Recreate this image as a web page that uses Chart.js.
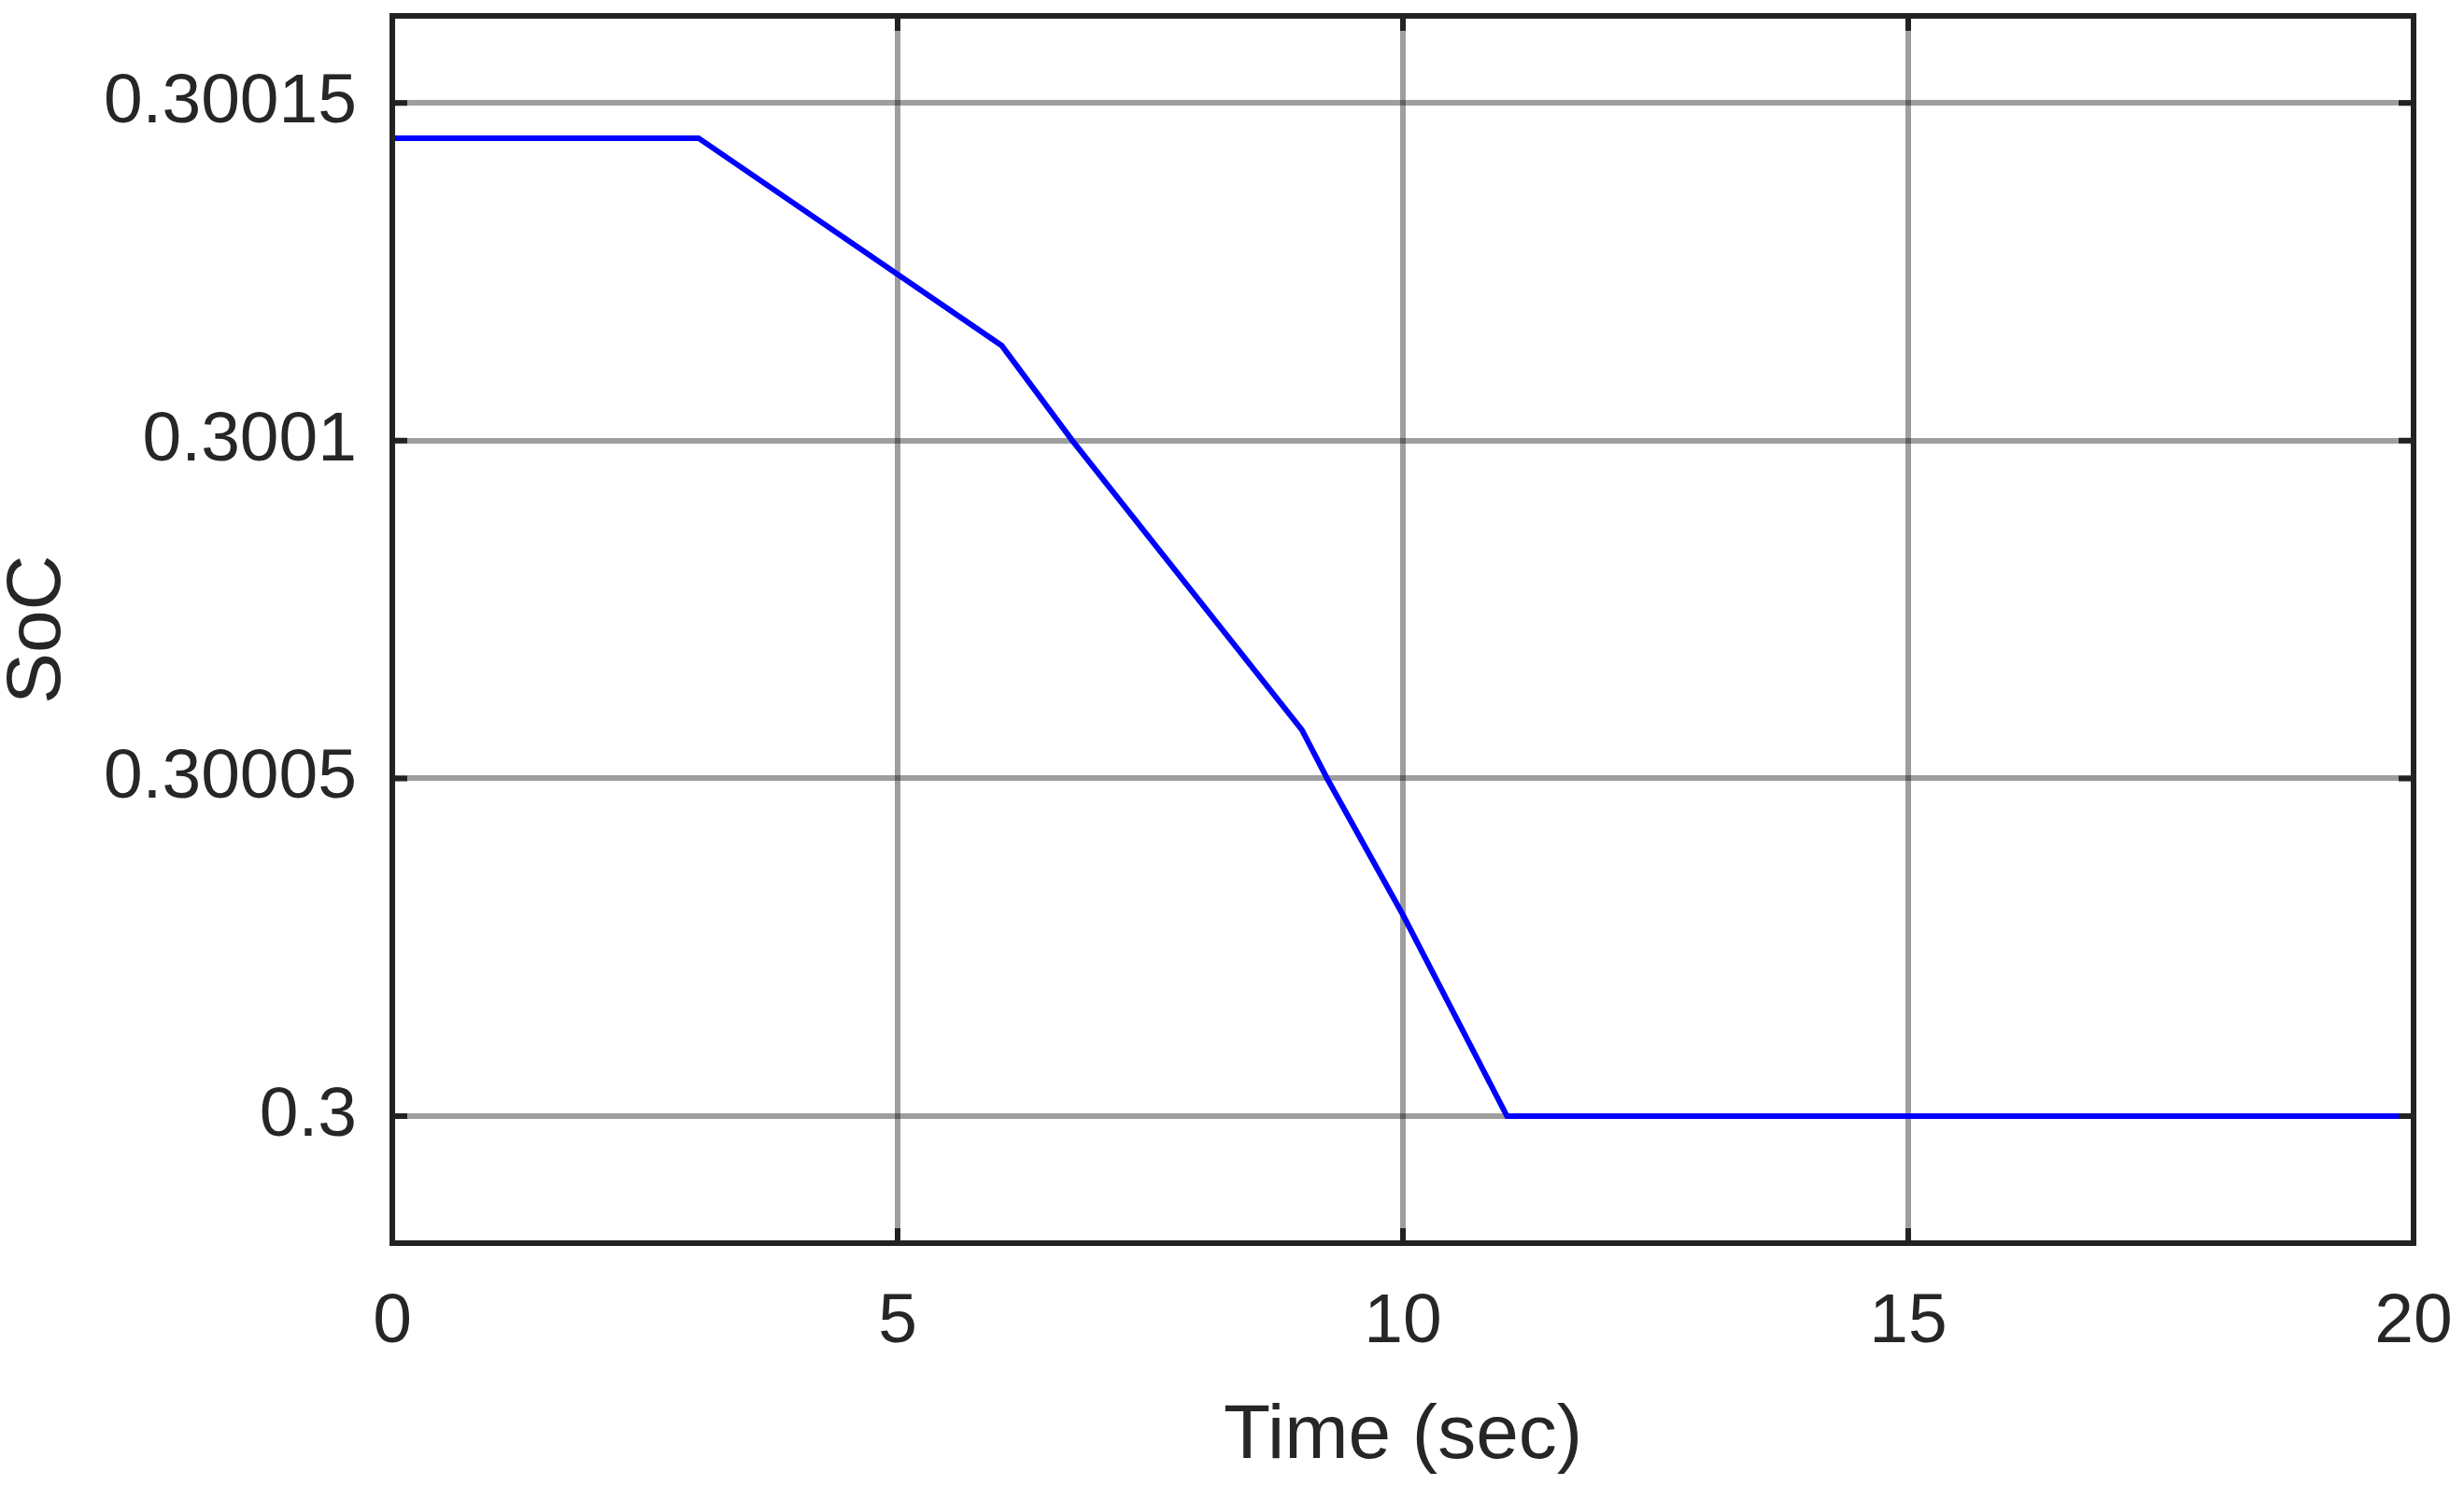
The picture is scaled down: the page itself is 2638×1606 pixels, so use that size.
<!DOCTYPE html>
<html lang="en">

<head>
  <meta charset="UTF-8">
  <title>SoC</title>
  <script src="https://cdn.jsdelivr.net/npm/chart.js@4.4.1/dist/chart.umd.min.js"></script>
  <style>
    body { margin: 0; background: #fff; }
  </style>
</head>

<body>
  <canvas id="soc" width="2638" height="1606"></canvas>
  <script>
    // values
    const timeSec = [0, 3.03, 6.03, 6.73, 9.0, 9.25, 10.0, 11.03, 20];
    const socValues = [0.3001448, 0.3001448, 0.3001141, 0.3001, 0.3000572, 0.30005, 0.3000298, 0.3, 0.3];

    const xTicks = [0, 5, 10, 15, 20];
    const xTickLabels = ['0', '5', '10', '15', '20'];
    const yTicks = [0.3, 0.30005, 0.3001, 0.30015];
    const yTickLabels = ['0.3', '0.30005', '0.3001', '0.30015'];

    const textColor = '#262626';
    const fontFamily = '"Liberation Sans", Arial, sans-serif';

    // matlab style box + inward tick marks
    const boxPlugin = {
      id: 'box',
      afterDatasetsDraw(chart) {
        const ctx = chart.ctx;
        const a = chart.chartArea;
        const xs = chart.scales.x, ys = chart.scales.y;
        const len = 16;
        ctx.save();
        ctx.strokeStyle = '#222';
        ctx.lineWidth = 6;
        ctx.beginPath();
        xTicks.forEach(v => {
          const px = xs.getPixelForValue(v);
          ctx.moveTo(px, a.bottom); ctx.lineTo(px, a.bottom - len);
          ctx.moveTo(px, a.top); ctx.lineTo(px, a.top + len);
        });
        yTicks.forEach(v => {
          const py = ys.getPixelForValue(v);
          ctx.moveTo(a.left, py); ctx.lineTo(a.left + len, py);
          ctx.moveTo(a.right, py); ctx.lineTo(a.right - len, py);
        });
        ctx.stroke();
        ctx.strokeRect(a.left, a.top, a.right - a.left, a.bottom - a.top);
        ctx.restore();
      }
    };

    new Chart(document.getElementById('soc'), {
      type: 'line',
      data: {
        datasets: [{
          label: 'SoC',
          data: timeSec.map((t, i) => ({ x: t, y: socValues[i] })),
          borderColor: '#0000ff',
          borderWidth: 6,
          pointRadius: 0,
          tension: 0,
          fill: false
        }]
      },
      options: {
        responsive: false,
        animation: false,
        devicePixelRatio: 1,
        layout: { padding: { top: 17, right: 54, bottom: 0, left: 0 } },
        plugins: {
          legend: { display: false },
          tooltip: { enabled: false }
        },
        scales: {
          x: {
            type: 'linear',
            min: 0,
            max: 20,
            afterBuildTicks: s => { s.ticks = xTicks.map(v => ({ value: v })); },
            afterFit: s => { s.height = 275; s.paddingLeft = 0; s.paddingRight = 0; },
            ticks: {
              callback: (v, i) => xTickLabels[i],
              color: textColor,
              padding: 40,
              maxRotation: 0,
              font: { family: fontFamily, size: 75 }
            },
            grid: { color: 'rgba(0,0,0,0.38)', lineWidth: 6, drawTicks: false },
            border: { display: false },
            title: {
              display: true,
              text: 'Time (sec)',
              color: textColor,
              padding: { top: 0, bottom: 27 },
              font: { family: fontFamily, size: 82, lineHeight: 1 }
            }
          },
          y: {
            type: 'linear',
            min: 0.2999812,
            max: 0.3001629,
            afterBuildTicks: s => { s.ticks = yTicks.map(v => ({ value: v })); },
            afterFit: s => { s.width = 420; s.paddingTop = 0; s.paddingBottom = 0; },
            ticks: {
              callback: (v, i) => yTickLabels[i],
              color: textColor,
              padding: 38,
              font: { family: fontFamily, size: 75 }
            },
            grid: { color: 'rgba(0,0,0,0.38)', lineWidth: 6, drawTicks: false },
            border: { display: false },
            title: {
              display: true,
              text: 'SoC',
              color: textColor,
              padding: { top: 0, bottom: 0 },
              font: { family: fontFamily, size: 82, lineHeight: 1 }
            }
          }
        }
      },
      plugins: [boxPlugin]
    });
  </script>

</body>

</html>
